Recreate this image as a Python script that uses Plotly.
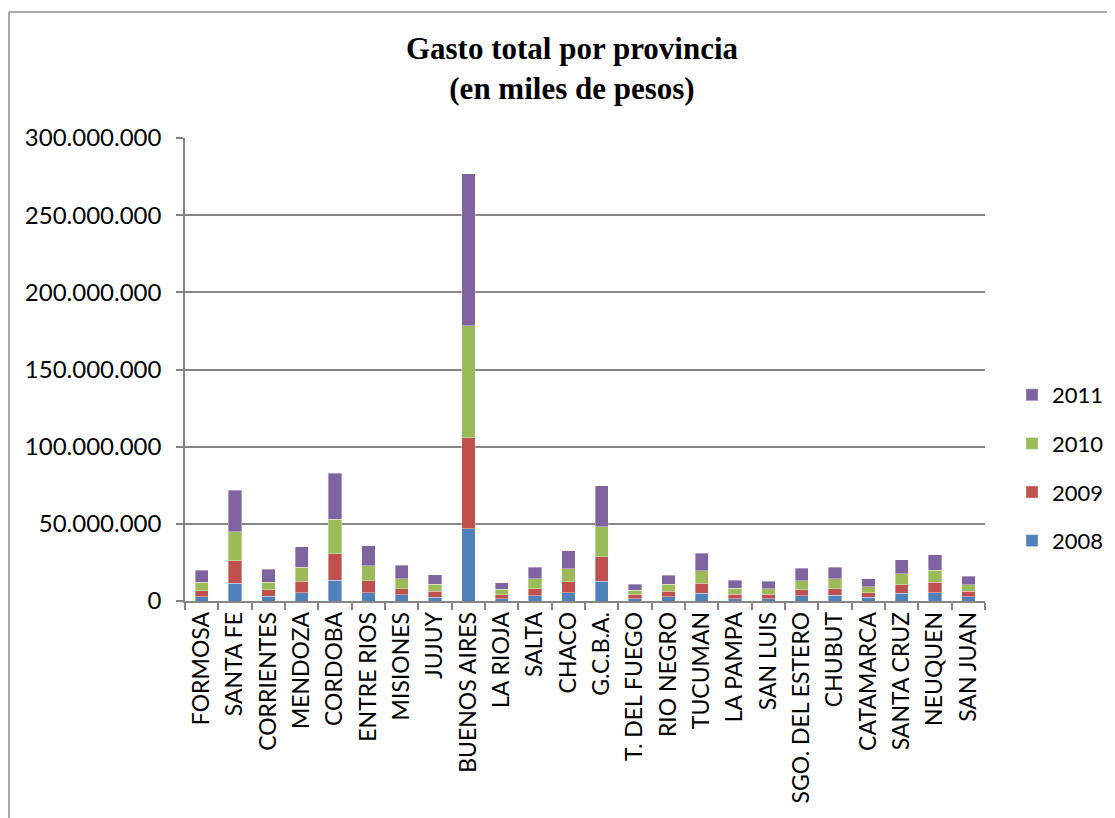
import plotly.graph_objects as go

provincias = ["FORMOSA", "SANTA FE", "CORRIENTES", "MENDOZA", "CORDOBA", "ENTRE RIOS",
              "MISIONES", "JUJUY", "BUENOS AIRES", "LA RIOJA", "SALTA", "CHACO",
              "G.C.B.A.", "T. DEL FUEGO", "RIO NEGRO", "TUCUMAN", "LA PAMPA", "SAN LUIS",
              "SGO. DEL ESTERO", "CHUBUT", "CATAMARCA", "SANTA CRUZ", "NEUQUEN", "SAN JUAN"]

# values in millions of (thousand) pesos
gasto_2008 = [2.8, 11.5, 3.2, 5.4, 13.4, 5.4, 3.9, 2.4, 46.7, 1.5, 3.4, 5.2,
              12.8, 1.3, 2.6, 5.0, 1.5, 1.3, 3.4, 3.7, 2.4, 5.0, 5.4, 2.8]
gasto_2009 = [3.7, 14.6, 4.1, 7.4, 17.3, 7.8, 4.1, 3.9, 59.1, 2.6, 4.6, 7.3,
              15.9, 2.6, 3.7, 6.5, 3.0, 3.2, 3.9, 4.3, 3.0, 5.6, 6.7, 3.5]
gasto_2010 = [5.8, 18.8, 5.0, 9.2, 22.4, 9.5, 6.5, 4.5, 72.4, 3.5, 6.3, 8.4,
              19.3, 3.0, 4.5, 8.1, 3.9, 3.3, 5.9, 6.3, 3.9, 6.9, 7.8, 4.1]
gasto_2011 = [7.6, 27.0, 8.4, 13.2, 29.8, 13.1, 8.6, 6.2, 98.7, 4.3, 7.5, 11.7,
              26.7, 3.9, 6.0, 11.5, 5.0, 5.0, 8.0, 7.5, 5.0, 9.1, 10.1, 5.6]

series = [("2008", gasto_2008, "#4F81BD"),
          ("2009", gasto_2009, "#C0504D"),
          ("2010", gasto_2010, "#9BBB59"),
          ("2011", gasto_2011, "#8064A2")]

fig = go.Figure()
for i, (name, vals, color) in enumerate(series):
    fig.add_trace(go.Bar(
        x=provincias, y=[v * 1e6 for v in vals], name=name, legendgroup=name,
        legendrank=100 - i,
        marker=dict(color=color, line=dict(color="rgba(255,255,255,0.6)", width=0.6)),
    ))

# page body has an 8px margin: figure coords = screen coords - 8
OFF = 8
W, H = 1115 - OFF, 818 - OFF
L, T = 185 - OFF, 138 - OFF
R = W - (985 - OFF)
B = H - (601 - OFF)
pw, ph = W - L - R, H - T - B

def px_x(sx):
    return (sx - OFF - L) / pw

def px_y(sy):
    return (601 - sy) / ph

fig.update_layout(
    width=W, height=H,
    barmode="stack", bargap=0.6,
    separators=",.",
    paper_bgcolor="white", plot_bgcolor="white",
    margin=dict(l=L, r=R, t=T, b=B, pad=0, autoexpand=False),
    font=dict(family="Lato, Carlito, sans-serif", color="black", size=20),
    title=dict(text="<b>Gasto total por provincia<br>(en miles de pesos)</b>",
               x=(572 - OFF) / W, xanchor="center", y=1 - 51 / H, yanchor="middle",
               font=dict(family="Liberation Serif, Times New Roman, serif", size=31, color="black")),
    legend=dict(x=px_x(1012), xanchor="left", y=px_y(468), yanchor="middle",
                traceorder="grouped", tracegroupgap=17,
                font=dict(size=22, family="Lato, sans-serif"), bgcolor="rgba(0,0,0,0)"),
    xaxis=dict(type="category", tickangle=-90, showline=True, linecolor="#868686", linewidth=1.5,
               ticks="outside", tickson="boundaries", ticklen=7, tickcolor="#868686", tickwidth=1.5,
               showgrid=False, tickfont=dict(size=23), automargin=False),
    yaxis=dict(range=[0, 300e6], dtick=50e6, tickformat=",d", showline=True, linecolor="#868686",
               linewidth=1.5, ticks="outside", ticklen=7, tickcolor="#868686", tickwidth=1.5,
               showgrid=True, gridcolor="#868686", gridwidth=1.5, zeroline=False,
               tickfont=dict(size=24), ticklabelstandoff=10, automargin=False),
    shapes=[
        dict(type="line", xref="paper", yref="paper",
             x0=px_x(9), x1=px_x(1125), y0=px_y(12), y1=px_y(12),
             line=dict(color="#8c8c8c", width=1.5)),
        dict(type="line", xref="paper", yref="paper",
             x0=px_x(9), x1=px_x(9), y0=px_y(12), y1=px_y(830),
             line=dict(color="#8c8c8c", width=1.5)),
    ],
)

fig.write_html("out.html")
